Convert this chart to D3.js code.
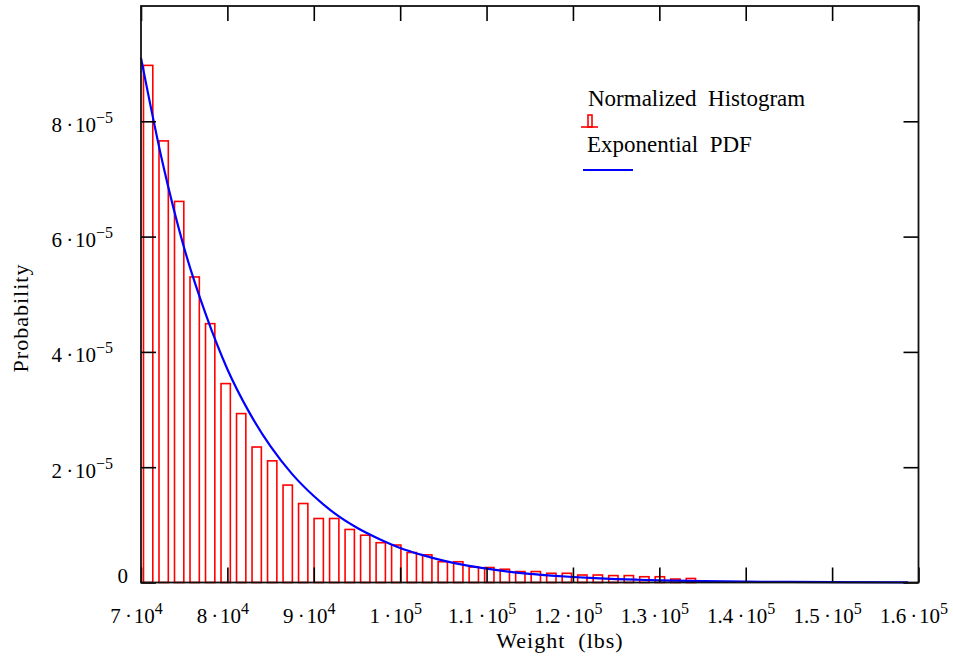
<!DOCTYPE html>
<html>
<head>
<meta charset="utf-8">
<script src="https://cdn.jsdelivr.net/npm/d3@7"></script>
<style>
  body { margin: 0; background: #fff; }
  text { font-family: "Liberation Serif", "Times New Roman", serif; fill: #000; white-space: pre; }
</style>
</head>
<body>
<script>
(function () {

// histogram heights (probability per lb), one per bin
var histVals = [8.97e-5, 7.66e-5, 6.61e-5, 5.30e-5, 4.49e-5, 3.45e-5, 2.93e-5, 2.35e-5,
                2.11e-5, 1.69e-5, 1.37e-5, 1.11e-5, 1.11e-5, 9.2e-6, 8.2e-6, 6.9e-6,
                6.5e-6, 5.2e-6, 4.8e-6, 3.6e-6, 3.6e-6, 2.7e-6, 2.6e-6, 2.3e-6,
                1.9e-6, 1.9e-6, 1.6e-6, 1.6e-6, 1.3e-6, 1.3e-6, 1.2e-6, 1.2e-6,
                1.0e-6, 1.0e-6, 0.6e-6, 0.7e-6];
var binStart = 69930, binWidth = 1795;

// exponential pdf curve
var pdfX = [70000, 72500, 75000, 77500, 80000, 82500, 85000, 87500, 90000, 92500,
            95000, 97500, 100000, 102500, 105000, 107500, 110000, 112500, 115000, 117500,
            120000, 122500, 125000, 127500, 130000, 135000, 140000, 145000, 150000, 158800];
var pdfY = [9.1e-5, 7.28e-5, 5.8e-5, 4.65e-5, 3.7e-5, 2.96e-5, 2.36e-5, 1.88e-5, 1.5e-5, 1.19e-5,
            9.5e-6, 7.6e-6, 6.0e-6, 4.8e-6, 3.8e-6, 3.0e-6, 2.4e-6, 1.9e-6, 1.5e-6, 1.2e-6,
            0.95e-6, 0.76e-6, 0.6e-6, 0.48e-6, 0.38e-6, 0.24e-6, 0.15e-6, 0.1e-6, 0.06e-6, 0.03e-6];

// tick labels
var xTicks = [70000, 80000, 90000, 100000, 110000, 120000, 130000, 140000, 150000, 160000];
var xMant = ["7", "8", "9", "1", "1.1", "1.2", "1.3", "1.4", "1.5", "1.6"];
var xExp  = ["4", "4", "4", "5", "5", "5", "5", "5", "5", "5"];
var yTicks = [0, 2e-5, 4e-5, 6e-5, 8e-5];
var yMant = ["0", "2", "4", "6", "8"];
var yExp  = ["", "\u22125", "\u22125", "\u22125", "\u22125"];

var width = 953, height = 657,
    left = 141, right = 918.5, top = 6, bottom = 582.5,
    tick = 15,
    x = d3.scaleLinear().domain([70000, 160000]).range([left, right]),
    y = d3.scaleLinear().domain([0, 1e-4]).range([bottom, top]);

var svg = d3.select("body").append("svg")
    .attr("width", width)
    .attr("height", height);

svg.append("rect").attr("width", width).attr("height", height).attr("fill", "#fff");

// bars
svg.append("g").selectAll("rect")
    .data(histVals)
  .enter().append("rect")
    .attr("x", function (d, i) { return x(binStart + binWidth * (i + 0.2)); })
    .attr("width", function () { return x(binStart + binWidth * 0.6) - x(binStart); })
    .attr("y", function (d) { return y(d); })
    .attr("height", function (d) { return y(0) - y(d); })
    .attr("fill", "none")
    .attr("stroke", "#ff0000")
    .attr("stroke-width", 1.6);

// pdf line
var line = d3.line()
    .x(function (d, i) { return x(pdfX[i]); })
    .y(function (d) { return y(d); })
    .curve(d3.curveMonotoneX);

svg.append("path")
    .datum(pdfY)
    .attr("d", line)
    .attr("fill", "none")
    .attr("stroke", "#0000ff")
    .attr("stroke-width", 2.2);

// inward ticks on all four sides
function ticks(axis, tr) {
    var g = svg.append("g").attr("transform", tr).call(axis);
    g.select(".domain").remove();
    g.selectAll("text").remove();
    g.selectAll("line").attr("stroke", "#000").attr("stroke-width", 1.6);
}
ticks(d3.axisBottom(x).tickValues(xTicks).tickSize(-tick), "translate(0," + bottom + ")");
ticks(d3.axisTop(x).tickValues(xTicks).tickSize(-tick), "translate(0," + top + ")");
ticks(d3.axisLeft(y).tickValues(yTicks).tickSize(-tick), "translate(" + left + ",0)");
ticks(d3.axisRight(y).tickValues(yTicks).tickSize(-tick), "translate(" + right + ",0)");

// frame
svg.append("rect")
    .attr("x", left).attr("y", top)
    .attr("width", right - left).attr("height", bottom - top)
    .attr("fill", "none")
    .attr("stroke", "#111")
    .attr("stroke-width", 1.8);

// x tick labels
var xl = svg.append("g").selectAll("text")
    .data(xTicks)
  .enter().append("text")
    .attr("x", function (d) { return x(d) - 4.5; })
    .attr("y", 623)
    .attr("text-anchor", "middle")
    .style("font-size", "21px");
xl.append("tspan").text(function (d, i) { return xMant[i] + "\u2009\u00b7\u200a10"; });
xl.append("tspan").attr("dy", -9).style("font-size", "16px").text(function (d, i) { return xExp[i]; });

// y tick labels
var yl = svg.append("g").selectAll("text")
    .data(yTicks)
  .enter().append("text")
    .attr("x", function (d) { return d === 0 ? 128 : 113; })
    .attr("y", function (d) { return d === 0 ? 583 : y(d) + 10.5; })
    .attr("text-anchor", "end")
    .style("font-size", "21px");
yl.append("tspan").text(function (d, i) { return i === 0 ? "0" : yMant[i] + "\u2009\u00b7\u200a10"; });
yl.filter(function (d) { return d !== 0; })
  .append("tspan").attr("dy", -9).style("font-size", "16px").text(function (d) { return yExp[yTicks.indexOf(d)]; });

// axis titles
svg.append("text")
    .attr("x", 560).attr("y", 648)
    .attr("text-anchor", "middle")
    .style("font-size", "22px")
    .style("letter-spacing", "1px")
    .text("Weight  (lbs)");

svg.append("text")
    .attr("transform", "translate(28,318) rotate(-90)")
    .attr("text-anchor", "middle")
    .style("font-size", "22px")
    .style("letter-spacing", "1px")
    .text("Probability");

// legend
svg.append("text").attr("x", 588).attr("y", 106).style("font-size", "23px").text("Normalized  Histogram");
svg.append("line").attr("x1", 581).attr("x2", 598).attr("y1", 127).attr("y2", 127)
    .attr("stroke", "#ff0000").attr("stroke-width", 1.6);
svg.append("rect").attr("x", 588).attr("y", 115).attr("width", 4).attr("height", 12)
    .attr("fill", "none").attr("stroke", "#ff0000").attr("stroke-width", 1.6);
svg.append("text").attr("x", 587).attr("y", 152).style("font-size", "23px").text("Exponential  PDF");
svg.append("line").attr("x1", 583).attr("x2", 633).attr("y1", 170).attr("y2", 170)
    .attr("stroke", "#0000ff").attr("stroke-width", 2.2);

})();
</script>
</body>
</html>
